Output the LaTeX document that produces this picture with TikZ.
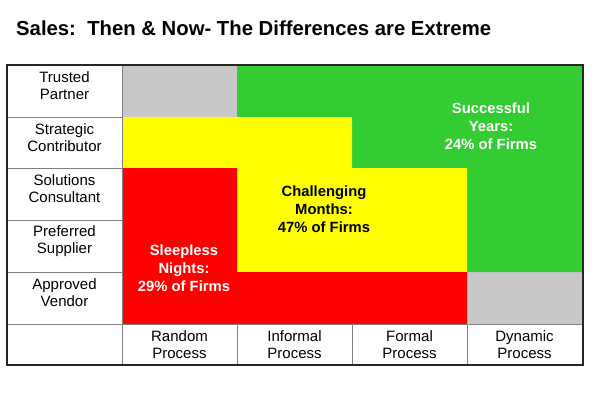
\documentclass[tikz,border=0pt]{standalone}
\usepackage{fontspec}
\setmainfont{Liberation Sans}
\usepackage{xcolor}
\usetikzlibrary{positioning}
\definecolor{cellgray}{HTML}{C8C8C8}
\definecolor{cellgreen}{HTML}{33CC33}
\definecolor{cellyellow}{HTML}{FFFF00}
\definecolor{cellred}{HTML}{FF0000}
\definecolor{gridgray}{HTML}{7F7F7F}
\tikzset{row label/.style={align=center,inner sep=0pt,font=\fontsize{15}{17}\selectfont},
         zone text/.style={align=center,inner sep=0pt,font=\fontsize{14.8}{18}\selectfont\bfseries},
         grid line/.style={draw=gridgray,line width=0.8pt},
            }

\begin{document}
\begin{tikzpicture}[x=1pt,y=-1pt]

    \useasboundingbox (0,0) rectangle (600,394);

    % title
    \node[anchor=base west,inner sep=0pt,font=\fontsize{20.3}{24}\selectfont\bfseries] (title) at (16,35) {Sales:\ \ Then \& Now- The Differences are Extreme};

    % coloured zones
    \fill[cellgray] (122,65) rectangle (237,117);
    \fill[cellgray] (467,272) rectangle (583,324);
    \fill[cellgreen] (237,65) -- (583,65) -- (583,272) -- (467,272) -- (467,168) -- (352,168) -- (352,117) -- (237,117) -- cycle;
    \fill[cellyellow] (122,117) -- (352,117) -- (352,168) -- (467,168) -- (467,272) -- (237,272) -- (237,168) -- (122,168) -- cycle;
    \fill[cellred] (122,168) -- (237,168) -- (237,272) -- (467,272) -- (467,324) -- (122,324) -- cycle;

    % grid
    \path[grid line]
    (7,117) -- (122,117)
    (7,168) -- (122,168)
    (7,220) -- (122,220)
    (7,272) -- (122,272)
    (7,324) -- (583,324)
    (122,65) -- (122,365)
    (237,324) -- (237,365)
    (352,324) -- (352,365)
    (467,324) -- (467,365);
    \draw[line width=1.6pt,black!85] (7,65) rectangle (583,365);

    % row labels
    \node[row label] (trusted) at (64.5,86) {Trusted\\Partner};
    \node[row label] (strategic) at (64.5,137.5) {Strategic\\Contributor};
    \node[row label] (solutions) at (64.5,189) {Solutions\\Consultant};
    \node[row label] (preferred) at (64.5,241) {Preferred\\Supplier};
    \node[row label] (approved) at (64.5,293) {Approved\\Vendor};

    % column labels
    \node[row label] (random) at (179.5,344.5) {Random\\Process};
    \node[row label] (informal) [right = 115pt of random.center, anchor=center] {Informal\\Process};
    \node[row label] (formal) [right = 115pt of informal.center, anchor=center] {Formal\\Process};
    \node[row label] (dynamic) [right = 115pt of formal.center, anchor=center] {Dynamic\\Process};

    % zone texts
    \node[zone text,white] (successful) at (491,126) {Successful\\Years:\\24\% of Firms};
    \node[zone text] (challenging) at (324,209) {Challenging\\Months:\\47\% of Firms};
    \node[zone text,white] (sleepless) at (184,268) {Sleepless\\Nights:\\29\% of Firms};

\end{tikzpicture}
\end{document}
